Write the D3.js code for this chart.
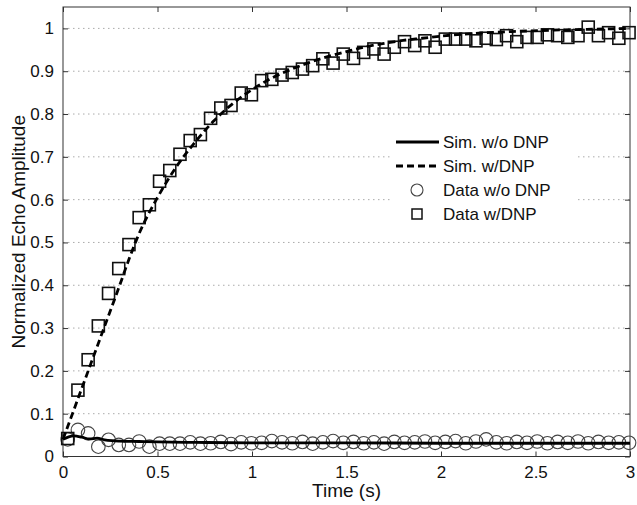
<!DOCTYPE html>
<html>
<head>
<meta charset="utf-8">
<script src="https://cdn.jsdelivr.net/npm/d3@7"></script>
<style>
  body { margin: 0; background: #fff; }
  svg { display: block; font-family: "Liberation Sans", Arial, sans-serif; }
</style>
</head>
<body>
<div id="chart"></div>
<script>
var width = 637,
    height = 505;

// measured time points (s)
var tData = [0.025, 0.079, 0.133, 0.187, 0.241, 0.295, 0.349, 0.403, 0.457, 0.511,
  0.565, 0.619, 0.673, 0.727, 0.781, 0.835, 0.889, 0.943, 0.997, 1.051,
  1.105, 1.159, 1.213, 1.267, 1.321, 1.375, 1.429, 1.483, 1.537, 1.591,
  1.645, 1.699, 1.753, 1.807, 1.861, 1.915, 1.969, 2.023, 2.077, 2.131,
  2.185, 2.239, 2.293, 2.347, 2.401, 2.455, 2.509, 2.563, 2.617, 2.671,
  2.725, 2.779, 2.833, 2.887, 2.941, 2.995];

// Data w/DNP (squares)
var dataDnp = [0.042, 0.155, 0.226, 0.305, 0.381, 0.439, 0.495, 0.558, 0.588, 0.643,
  0.668, 0.706, 0.738, 0.752, 0.79, 0.814, 0.82, 0.849, 0.845, 0.878,
  0.881, 0.891, 0.897, 0.905, 0.913, 0.929, 0.919, 0.94, 0.93, 0.944,
  0.952, 0.94, 0.956, 0.969, 0.96, 0.971, 0.956, 0.975, 0.975, 0.975,
  0.971, 0.977, 0.974, 0.983, 0.969, 0.979, 0.979, 0.985, 0.983, 0.979,
  0.983, 1.003, 0.983, 0.99, 0.977, 0.99];

// Data w/o DNP (circles)
var dataNoDnp = [0.040, 0.062, 0.054, 0.023, 0.039, 0.027, 0.027, 0.035, 0.023, 0.030,
  0.030, 0.030, 0.033, 0.030, 0.031, 0.034, 0.029, 0.033, 0.031, 0.032,
  0.036, 0.033, 0.031, 0.034, 0.030, 0.033, 0.036, 0.032, 0.034, 0.031,
  0.033, 0.030, 0.034, 0.032, 0.033, 0.035, 0.032, 0.034, 0.036, 0.031,
  0.035, 0.040, 0.033, 0.031, 0.034, 0.032, 0.035, 0.031, 0.034, 0.032,
  0.035, 0.031, 0.034, 0.032, 0.033, 0.032];

// Sim. w/DNP
var simDnpT = [0, 0.05, 0.1, 0.15, 0.2, 0.25, 0.3, 0.35, 0.4, 0.5, 0.6, 0.7, 0.8, 0.9, 1.0,
  1.1, 1.2, 1.3, 1.4, 1.5, 1.6, 1.7, 1.8, 1.9, 2.0, 2.2, 2.4, 2.6, 2.8, 3.0];
var simDnp = [0.04, 0.10, 0.16, 0.22, 0.28, 0.34, 0.40, 0.462, 0.518, 0.605, 0.677, 0.735, 0.785, 0.825, 0.857,
  0.883, 0.903, 0.92, 0.934, 0.946, 0.957, 0.965, 0.972, 0.977, 0.982, 0.989, 0.993, 0.996, 0.998, 1.0];

// Sim. w/o DNP
var simNoDnpT = [0, 0.03, 0.06, 0.1, 0.14, 0.18, 0.22, 0.26, 0.3, 0.4, 0.5, 0.7, 1.0, 1.5, 2.0, 2.5, 3.0];
var simNoDnp = [0.040, 0.046, 0.048, 0.045, 0.041, 0.043, 0.039, 0.037, 0.036, 0.035, 0.034, 0.033, 0.032, 0.032, 0.031, 0.031, 0.031];

var xTicks = [0, 0.5, 1, 1.5, 2, 2.5, 3];
var yTicks = [0, 0.1, 0.2, 0.3, 0.4, 0.5, 0.6, 0.7, 0.8, 0.9, 1];

var legendItems = [
  { label: "Sim. w/o DNP", type: "solid" },
  { label: "Sim. w/DNP", type: "dashed" },
  { label: "Data w/o DNP", type: "circle" },
  { label: "Data w/DNP", type: "square" }
];

var margin = { top: 7, right: 7, bottom: 48.5, left: 63 };
var plotW = width - margin.left - margin.right,
    plotH = height - margin.top - margin.bottom;

var x = d3.scaleLinear().domain([0, 3]).range([0, plotW]);
var y = d3.scaleLinear().domain([0, 1.05]).range([plotH, 0]);

var svg = d3.select("#chart").append("svg")
    .attr("width", width)
    .attr("height", height);

var g = svg.append("g")
    .attr("transform", `translate(${margin.left},${margin.top})`);

// dotted horizontal grid
g.append("g")
    .selectAll("line")
    .data(yTicks.filter(d => d > 0))
    .join("line")
    .attr("x1", 0)
    .attr("x2", plotW)
    .attr("y1", d => y(d))
    .attr("y2", d => y(d))
    .attr("stroke", "#aaa")
    .attr("stroke-width", 1)
    .attr("stroke-dasharray", "1.5,3.5");

// axes with inward ticks
var fontSize = 17,
    titleSize = 19;
var axisColor = "#333";

function styleAxis(sel) {
    sel.select(".domain").remove();
    sel.selectAll(".tick line").attr("stroke", axisColor);
    sel.selectAll(".tick text")
        .attr("font-size", fontSize)
        .attr("fill", "#111")
        .attr("font-family", "Liberation Sans, Arial, sans-serif");
}

g.append("g")
    .attr("transform", `translate(0,${plotH})`)
    .call(d3.axisBottom(x).tickValues(xTicks).tickFormat(d3.format("")).tickSizeInner(-5).tickSizeOuter(0).tickPadding(9))
    .call(styleAxis);

g.append("g")
    .call(d3.axisTop(x).tickValues(xTicks).tickFormat("").tickSizeInner(-5).tickSizeOuter(0))
    .call(styleAxis);

g.append("g")
    .call(d3.axisLeft(y).tickValues(yTicks).tickFormat(d3.format("")).tickSizeInner(-5).tickSizeOuter(0).tickPadding(9))
    .call(styleAxis);

g.append("g")
    .attr("transform", `translate(${plotW},0)`)
    .call(d3.axisRight(y).tickValues(yTicks).tickFormat("").tickSizeInner(-5).tickSizeOuter(0))
    .call(styleAxis);

// box
g.append("rect")
    .attr("width", plotW)
    .attr("height", plotH)
    .attr("fill", "none")
    .attr("stroke", axisColor)
    .attr("stroke-width", 1);

// data markers
var pts = tData.map((t, i) => ({ t: t, dnp: dataDnp[i], nodnp: dataNoDnp[i] }));

g.append("g")
    .selectAll("circle")
    .data(pts)
    .join("circle")
    .attr("cx", d => x(d.t))
    .attr("cy", d => y(d.nodnp))
    .attr("r", 6.8)
    .attr("fill", "none")
    .attr("stroke", "#444")
    .attr("stroke-width", 1.1);

var sq = 12;
g.append("g")
    .selectAll("rect")
    .data(pts)
    .join("rect")
    .attr("x", d => x(d.t) - sq / 2)
    .attr("y", d => y(d.dnp) - sq / 2)
    .attr("width", sq)
    .attr("height", sq)
    .attr("fill", "none")
    .attr("stroke", "#111")
    .attr("stroke-width", 1.6);

// simulation lines
var line = d3.line()
    .x(d => x(d[0]))
    .y(d => y(d[1]))
    .curve(d3.curveMonotoneX);

g.append("path")
    .datum(simNoDnpT.map((t, i) => [t, simNoDnp[i]]))
    .attr("d", line)
    .attr("fill", "none")
    .attr("stroke", "#000")
    .attr("stroke-width", 2.8);

g.append("path")
    .datum(simDnpT.map((t, i) => [t, simDnp[i]]))
    .attr("d", line)
    .attr("fill", "none")
    .attr("stroke", "#000")
    .attr("stroke-width", 2.8)
    .attr("stroke-dasharray", "7,4");

// legend
var leg = svg.append("g");
leg.append("rect")
    .attr("x", 390)
    .attr("y", 128)
    .attr("width", 185)
    .attr("height", 98)
    .attr("fill", "#fff");

var item = leg.selectAll("g.item")
    .data(legendItems)
    .join("g")
    .attr("class", "item")
    .attr("transform", (d, i) => `translate(0,${142 + i * 24})`);

item.filter(d => d.type === "solid" || d.type === "dashed")
    .append("line")
    .attr("x1", 396)
    .attr("x2", 439)
    .attr("stroke", "#000")
    .attr("stroke-width", 2.8)
    .attr("stroke-dasharray", d => d.type === "dashed" ? "7,4" : null);

item.filter(d => d.type === "circle")
    .append("circle")
    .attr("cx", 417)
    .attr("r", 6)
    .attr("fill", "none")
    .attr("stroke", "#444")
    .attr("stroke-width", 1.1);

item.filter(d => d.type === "square")
    .append("rect")
    .attr("x", 417 - 5)
    .attr("y", -5)
    .attr("width", 10)
    .attr("height", 10)
    .attr("fill", "none")
    .attr("stroke", "#111")
    .attr("stroke-width", 1.5);

item.append("text")
    .attr("x", 443)
    .attr("dy", "0.36em")
    .attr("font-size", fontSize)
    .attr("fill", "#111")
    .text(d => d.label);

// axis titles
svg.append("text")
    .attr("x", margin.left + plotW / 2)
    .attr("y", 497)
    .attr("text-anchor", "middle")
    .attr("font-size", titleSize)
    .attr("fill", "#111")
    .text("Time (s)");

svg.append("text")
    .attr("transform", `translate(25,${margin.top + plotH / 2}) rotate(-90)`)
    .attr("text-anchor", "middle")
    .attr("font-size", titleSize)
    .attr("fill", "#111")
    .text("Normalized Echo Amplitude");
</script>
</body>
</html>
